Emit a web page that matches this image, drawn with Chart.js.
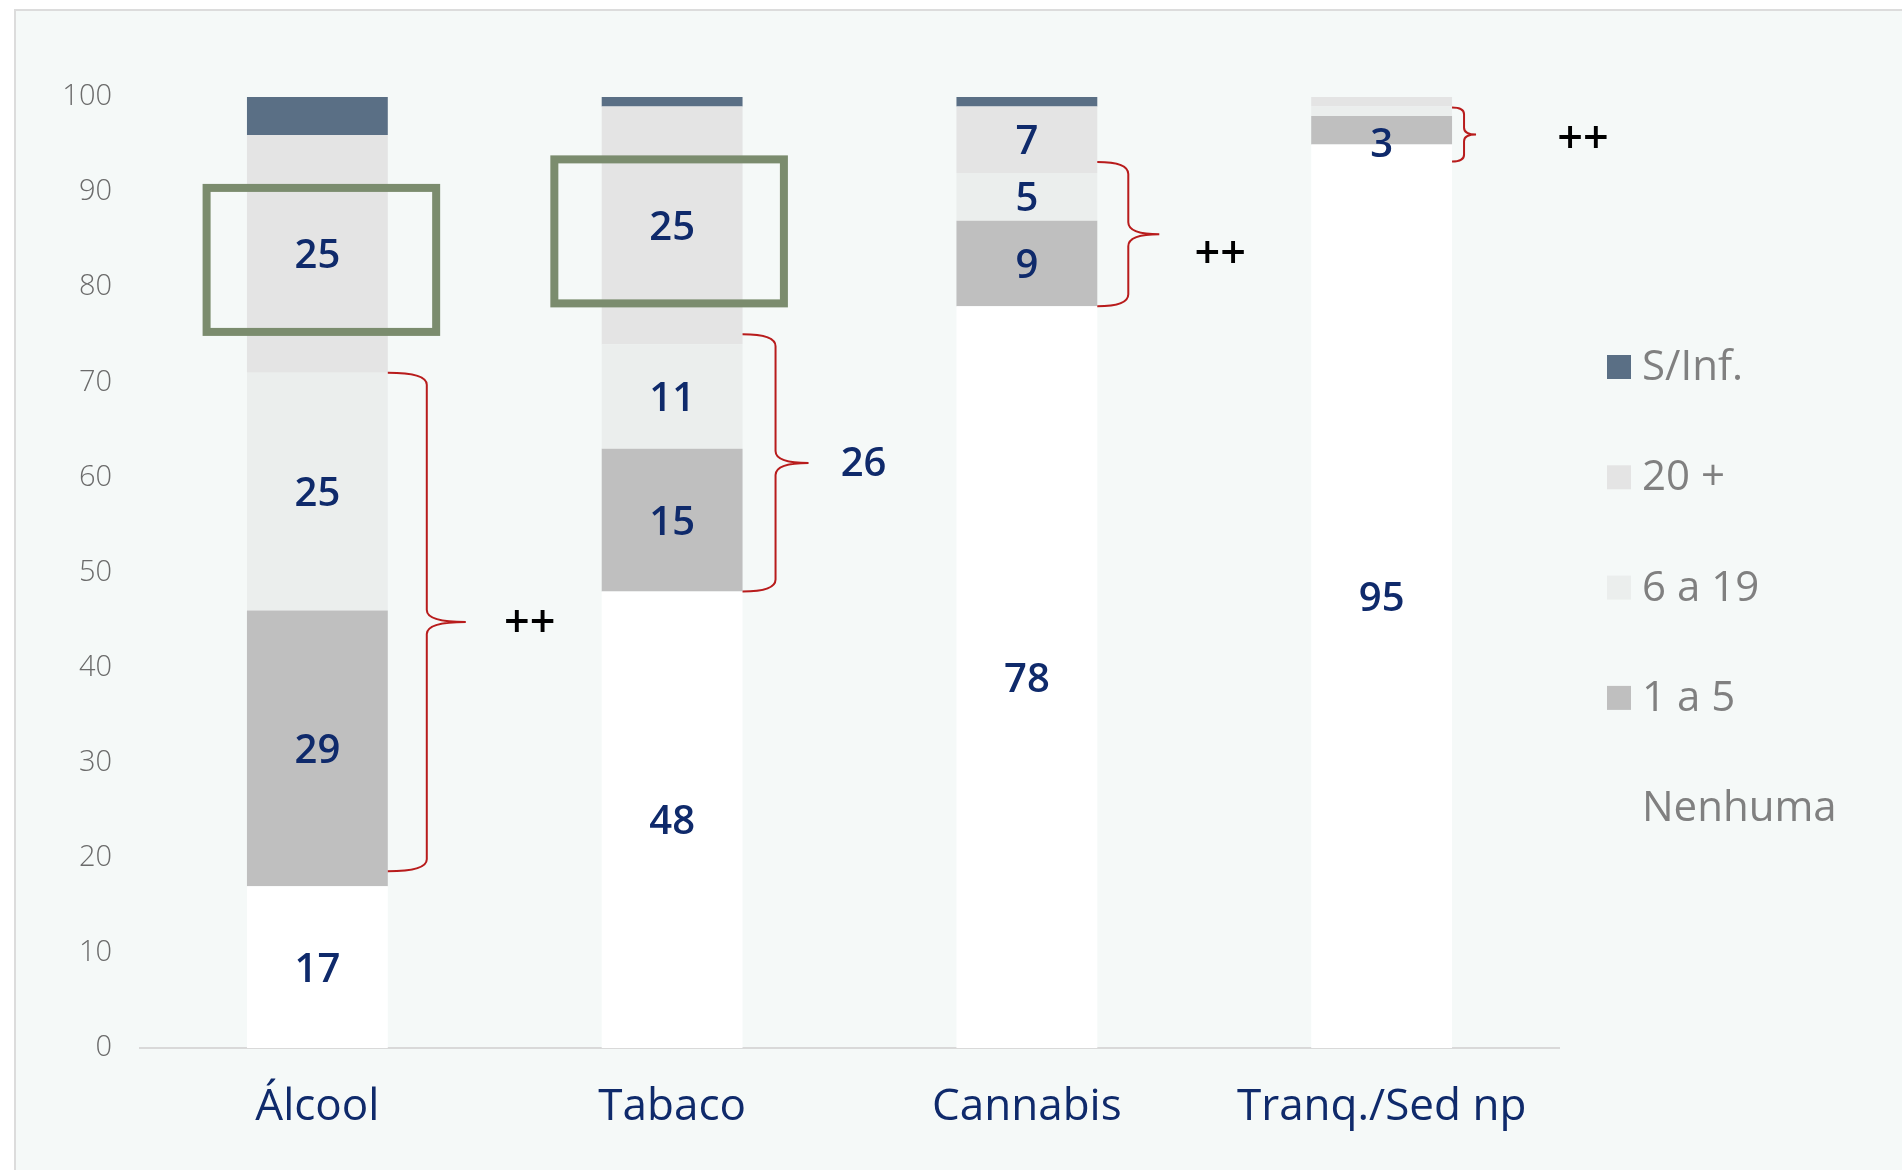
<!DOCTYPE html>
<html>
<head>
<meta charset="utf-8">
<script src="https://cdn.jsdelivr.net/npm/chart.js@4.4.1/dist/chart.umd.min.js"></script>
<style>
html,body{margin:0;padding:0;background:#ffffff;}
#wrap{width:1902px;height:1170px;position:relative;}
canvas{display:block;}
</style>
</head>
<body>
<div id="wrap"><canvas id="c" width="1902" height="1170"></canvas></div>
<script>
// ---- data ----
const categories = ['Álcool', 'Tabaco', 'Cannabis', 'Tranq./Sed np'];
const nenhuma    = [17, 48, 78, 95];
const umA5       = [29, 15, 9, 3];
const seisA19    = [25, 11, 5, 1];
const vinteMais  = [25, 25, 7, 1];
const semInfo    = [4, 1, 1, 0];
const yTicks     = [0, 10, 20, 30, 40, 50, 60, 70, 80, 90, 100];
const seriesNames = ['Nenhuma', '1 a 5', '6 a 19', '20 +', 'S/Inf.'];
const bracketLabels = ['++', '26', '++', '++'];
const highlighted = ['Álcool', 'Tabaco'];

// ---- styles ----
const NAVY = '#0f2a6b';
const COLORS = ['#ffffff', '#bfbfbf', '#ebeeed', '#e4e4e4', '#5a6f85'];
const FONT = '"Open Sans", "Liberation Sans", sans-serif';

const bgPlugin = {
  id: 'bg',
  beforeDraw(chart) {
    const ctx = chart.ctx;
    ctx.save();
    ctx.fillStyle = '#ffffff';
    ctx.fillRect(0, 0, chart.width, chart.height);
    ctx.fillStyle = '#f5f9f8';
    ctx.fillRect(15, 10, chart.width - 15, chart.height - 10);
    ctx.strokeStyle = '#dcdcdc';
    ctx.lineWidth = 2;
    ctx.beginPath();
    ctx.moveTo(15, chart.height);
    ctx.lineTo(15, 10);
    ctx.lineTo(chart.width, 10);
    ctx.stroke();
    ctx.restore();
  }
};

function drawBrace(ctx, x0, yTop, yBot, d) {
  const yMid = (yTop + yBot) / 2;
  const r = Math.min(12, (yBot - yTop) / 8);
  ctx.beginPath();
  ctx.moveTo(x0, yTop);
  ctx.quadraticCurveTo(x0 + d, yTop, x0 + d, yTop + r);
  ctx.lineTo(x0 + d, yMid - r);
  ctx.quadraticCurveTo(x0 + d, yMid, x0 + 2 * d, yMid);
  ctx.quadraticCurveTo(x0 + d, yMid, x0 + d, yMid + r);
  ctx.lineTo(x0 + d, yBot - r);
  ctx.quadraticCurveTo(x0 + d, yBot, x0, yBot);
  ctx.stroke();
}

const overlayPlugin = {
  id: 'overlay',
  afterDatasetsDraw(chart, args, opts) {
    const ctx = chart.ctx;
    ctx.save();

    // value labels
    ctx.font = '600 40px ' + FONT;
    ctx.fillStyle = NAVY;
    ctx.textAlign = 'center';
    ctx.textBaseline = 'middle';
    chart.data.datasets.forEach((ds, di) => {
      if (!ds.showLabels) return;
      const meta = chart.getDatasetMeta(di);
      meta.data.forEach((bar, j) => {
        const v = ds.data[j];
        if (v < 3) return;
        let y = (bar.y + bar.base) / 2;
        if (bar.base - bar.y < 35) y = bar.base - 2;
        ctx.fillText(String(v), bar.x, y + 3);
      });
    });

    // green highlight boxes around the "20 +" segment
    const m20 = chart.getDatasetMeta(3);
    ctx.strokeStyle = '#7b8c6e';
    ctx.lineWidth = 8;
    categories.forEach((c, j) => {
      if (!highlighted.includes(c)) return;
      const bar = m20.data[j];
      const cy = (bar.y + bar.base) / 2 + 6;
      const hw = bar.width * 0.815;
      const dx = opts.boxDx[j];
      ctx.strokeRect(bar.x - hw + dx, cy - 72, 2 * hw, 144);
    });

    // braces spanning "1 a 5" + "6 a 19"
    const m15 = chart.getDatasetMeta(1);
    const m619 = chart.getDatasetMeta(2);
    ctx.strokeStyle = '#b81c1c';
    ctx.lineWidth = 2;
    categories.forEach((c, j) => {
      const b1 = m15.data[j], b2 = m619.data[j];
      const x0 = b1.x + b1.width / 2;
      let top = b2.y - opts.braceExtTop[j], bot = b1.base - opts.braceExtBot[j];
      if (bot - top < 54) {
        const mid = (top + bot) / 2 + 9;
        top = mid - 27; bot = mid + 27;
      }
      const d = opts.braceDepth[j];
      drawBrace(ctx, x0, top, bot, d);
      const lbl = bracketLabels[j];
      const ly = (top + bot) / 2 + opts.labelDy[j];
      const lx = x0 + opts.labelDx[j];
      if (lbl === '++') {
        ctx.font = '600 45px ' + FONT;
        ctx.fillStyle = '#000000';
      } else {
        ctx.font = '600 40px ' + FONT;
        ctx.fillStyle = NAVY;
      }
      ctx.fillText(lbl, lx, ly);
    });

    // legend (top series first)
    ctx.textAlign = 'left';
    ctx.font = '500 42px ' + FONT;
    const order = [4, 3, 2, 1, 0];
    order.forEach((di, k) => {
      const cy = 367 + k * 110.3;
      if (di !== 0) {
        ctx.fillStyle = COLORS[di];
        ctx.fillRect(1607, cy - 12, 24, 24);
      }
      ctx.fillStyle = '#808080';
      ctx.fillText(seriesNames[di], 1642, cy + 1);
    });

    ctx.restore();
  }
};

const datasets = [nenhuma, umA5, seisA19, vinteMais, semInfo].map((arr, i) => ({
  label: seriesNames[i],
  data: arr,
  backgroundColor: COLORS[i],
  borderWidth: 0,
  categoryPercentage: 1.0,
  barPercentage: 0.397,
  showLabels: i !== 4
}));

new Chart(document.getElementById('c'), {
  type: 'bar',
  data: { labels: categories, datasets },
  plugins: [bgPlugin, overlayPlugin],
  options: {
    responsive: false,
    animation: false,
    devicePixelRatio: 1,
    layout: { padding: { top: 97, right: 343, left: 0, bottom: 0 } },
    plugins: {
      legend: { display: false },
      tooltip: { enabled: false },
      overlay: {
        braceDepth: [39, 33, 31, 12],
        braceExtTop: [0, 10, 11, 0],
        braceExtBot: [15, 0, 0, 0],
        labelDx: [142, 121, 123, 131],
        labelDy: [2, 2, 21, 6],
        boxDx: [4, -3]
      }
    },
    scales: {
      x: {
        stacked: true,
        grid: { display: false, drawTicks: false },
        border: { display: true, color: '#d9d9d9', width: 2 },
        ticks: { font: { family: FONT, size: 44, weight: 500 }, color: NAVY, padding: 33 },
        afterFit(s) { s.height = 122; }
      },
      y: {
        stacked: true,
        min: 0,
        max: 100,
        afterBuildTicks(s) { s.ticks = yTicks.map(v => ({ value: v })); },
        grid: { display: false, drawTicks: false },
        border: { display: false },
        ticks: { font: { family: FONT, size: 29, weight: 300 }, color: '#6b6b6b', padding: 28 },
        afterFit(s) { s.width = 140; }
      }
    }
  }
});
</script>
</body>
</html>
